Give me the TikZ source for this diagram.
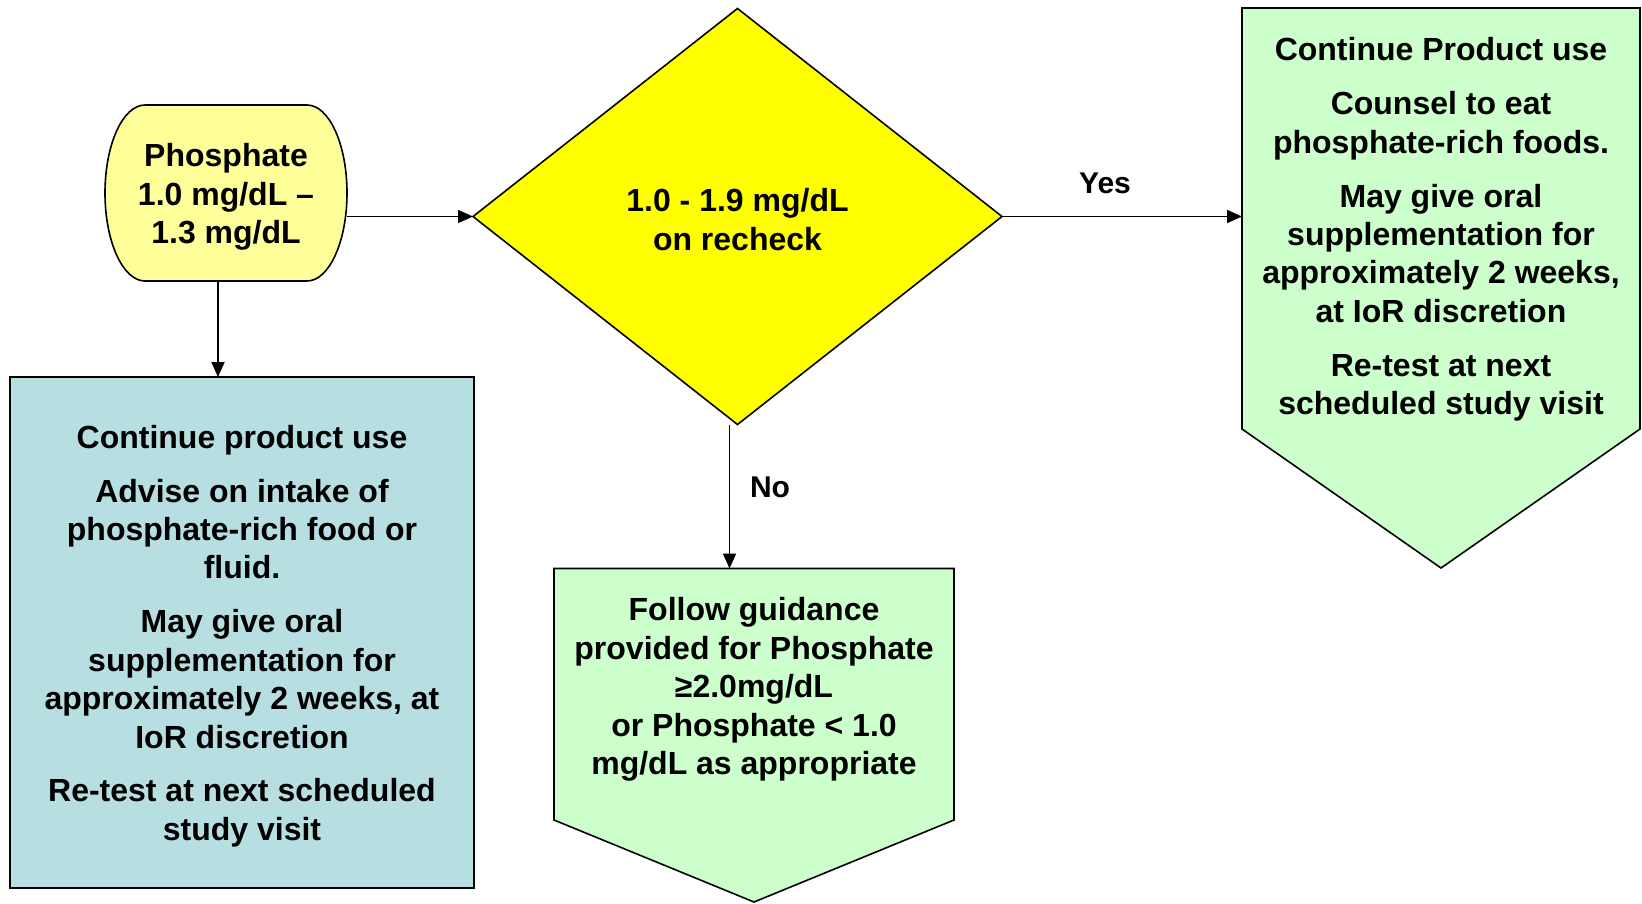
\documentclass[tikz,border=0pt]{standalone}
\usepackage{fontspec}
\setmainfont{Liberation Sans}
\usetikzlibrary{arrows.meta,calc,shapes.geometric}

\definecolor{startfill}{HTML}{FFFF99}
\definecolor{decfill}{HTML}{FFFF00}
\definecolor{bluefill}{HTML}{B7DEE0}
\definecolor{greenfill}{HTML}{CCFFCC}

\begin{document}
\begin{tikzpicture}[x=1pt,y=-1pt,
  txt/.style={font=\bfseries\fontsize{32}{38.4}\selectfont, align=center, inner sep=0pt},
  lbl/.style={font=\bfseries\fontsize{30}{36}\selectfont, inner sep=0pt},
  body/.style={rectangle, inner sep=0pt, outer sep=0pt},
  outline/.style={draw=black, line width=1.6pt, line join=miter},
  arr/.style={-{Triangle[length=15pt,width=13pt]}, line width=1.8pt},
]
\useasboundingbox (0,0) rectangle (1642,903);

% start terminal with bulging sides
\node[body, minimum width=242pt, minimum height=176pt] (start) at (226,193) {};
\draw[outline, fill=startfill]
  (145,105) -- (307,105)
  .. controls (329.1,105) and (347,144.4) .. (347,193)
  .. controls (347,241.6) and (329.1,281) .. (307,281)
  -- (145,281)
  .. controls (122.9,281) and (105,241.6) .. (105,193)
  .. controls (105,144.4) and (122.9,105) .. cycle;
\node[txt] (starttext) at (226,197) {Phosphate\\1.0 mg/dL –\\1.3 mg/dL};

% decision
\node[diamond, outline, fill=decfill, inner sep=0pt, outer sep=0pt,
      minimum width=529pt, minimum height=416pt] (dia) at (737.5,216.5) {};
\node[txt] (diatext) at (737.5,219.5) {1.0 - 1.9 mg/dL\\on recheck};

% left action box
\node[body, outline, line width=2.2pt, fill=bluefill,
      minimum width=464pt, minimum height=511pt] (blue) at (242,632.5) {};
\node[txt] (bluetext) at (242,636)
  {Continue product use\\[15.5pt]
   Advise on intake of\\phosphate-rich food or\\fluid.\\[15.5pt]
   May give oral\\supplementation for\\approximately 2 weeks, at\\IoR discretion\\[15.5pt]
   Re-test at next scheduled\\study visit};

% right off-page connector (Yes)
\node[body, minimum width=398pt, minimum height=421pt] (ybody) at (1441,218.5) {};
\draw[outline, fill=greenfill]
  (ybody.north west) -- (ybody.north east) -- (ybody.south east)
  -- (1441,568) -- (ybody.south west) -- cycle;
\node[txt] (ytext) at (1441,229.5)
  {Continue Product use\\[15.5pt]
   Counsel to eat\\phosphate-rich foods.\\[15.5pt]
   May give oral\\supplementation for\\approximately 2 weeks,\\at IoR discretion\\[15.5pt]
   Re-test at next\\scheduled study visit};

% lower off-page connector (No)
\node[body, minimum width=400pt, minimum height=251.5pt] (nbody) at (754,694.25) {};
\draw[outline, fill=greenfill]
  (nbody.north west) -- (nbody.north east) -- (nbody.south east)
  -- (754,902) -- (nbody.south west) -- cycle;
\node[txt] (ntext) at (754,689.5)
  {Follow guidance\\provided for Phosphate\\≥2.0mg/dL\\or Phosphate < 1.0\\mg/dL as appropriate};

% connectors
\draw[arr] (start.east |- dia.west) -- (dia.west);
\coordinate (s1) at ([xshift=-8pt]start.south);
\draw[arr] (s1) -- (s1 |- blue.north);
\draw[arr] (dia.east) -- (dia.east -| ybody.west);
\coordinate (d1) at ([xshift=-8pt]dia.south);
\draw[arr] (d1) -- (d1 |- nbody.north);

% branch labels
\node[lbl] (yes) at (1105,183) {Yes};
\node[lbl] (no) at (770,487) {No};
\end{tikzpicture}
\end{document}
